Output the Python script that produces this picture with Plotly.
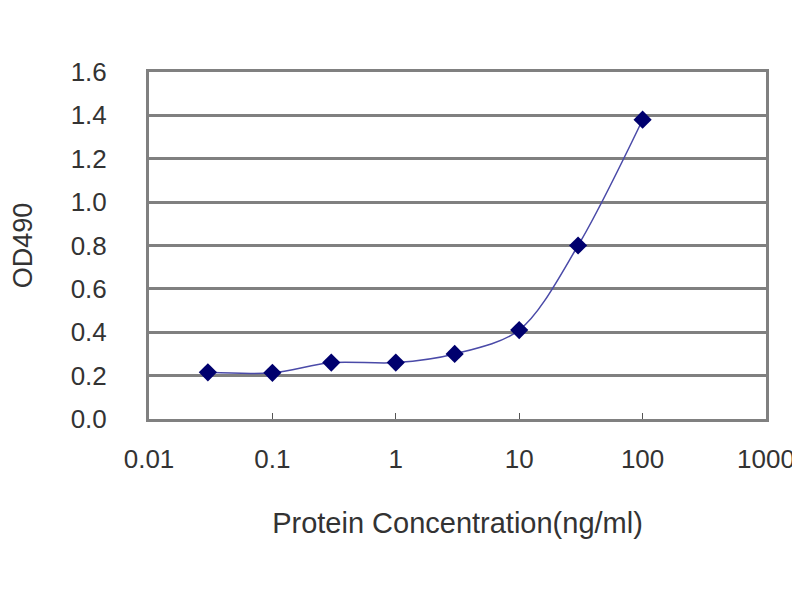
import plotly.graph_objects as go

# ELISA standard curve: protein concentration vs OD490
concentration = [0.03, 0.1, 0.3, 1, 3, 10, 30, 100]
od490 = [0.215, 0.213, 0.26, 0.26, 0.30, 0.41, 0.80, 1.38]

x_ticks = [0.01, 0.1, 1, 10, 100, 1000]
x_tick_labels = ["0.01", "0.1", "1", "10", "100", "1000"]
y_ticks = [0.0, 0.2, 0.4, 0.6, 0.8, 1.0, 1.2, 1.4, 1.6]
y_tick_labels = ["0.0", "0.2", "0.4", "0.6", "0.8", "1.0", "1.2", "1.4", "1.6"]

grid_gray = "#808080"
tick_font = dict(family="Liberation Sans, Arial, sans-serif", size=26, color="#333333")

fig = go.Figure()

# Fitted curve plus measured points
fig.add_trace(go.Scatter(
    x=concentration,
    y=od490,
    mode="lines",
    line=dict(color="#4a4aa8", width=1.5, shape="spline", smoothing=0.9),
    hoverinfo="skip",
    showlegend=False,
))
fig.add_trace(go.Scatter(
    x=concentration,
    y=od490,
    mode="markers",
    marker=dict(symbol="diamond", size=14, color="#00006e"),
    showlegend=False,
))

fig.update_layout(
    width=800,
    height=600,
    paper_bgcolor="white",
    plot_bgcolor="white",
    margin=dict(l=141, r=42, t=64, b=189, autoexpand=False),
    font=dict(family="Liberation Sans, Arial, sans-serif", size=24, color="#333333"),
)

fig.update_xaxes(
    type="log",
    range=[-2, 3],
    tickvals=x_ticks,
    ticktext=x_tick_labels,
    tickfont=tick_font,
    showgrid=False,
    showline=True,
    linecolor=grid_gray,
    linewidth=3,
    mirror=True,
    ticks="inside",
    ticklen=6,
    tickcolor="#555555",
    tickwidth=1,
    ticklabelstandoff=15,
    title=dict(text="Protein Concentration(ng/ml)", standoff=40),
    zeroline=False,
    automargin=False,
)

fig.update_yaxes(
    range=[0, 1.6],
    tickvals=y_ticks,
    ticktext=y_tick_labels,
    tickfont=tick_font,
    showgrid=True,
    gridcolor=grid_gray,
    gridwidth=3,
    showline=True,
    linecolor=grid_gray,
    linewidth=3,
    mirror=True,
    ticks="",
    ticklabelstandoff=34,
    title=dict(text="OD490", standoff=41, font=dict(size=27)),
    zeroline=False,
    automargin=False,
)

fig.write_html("out.html")
